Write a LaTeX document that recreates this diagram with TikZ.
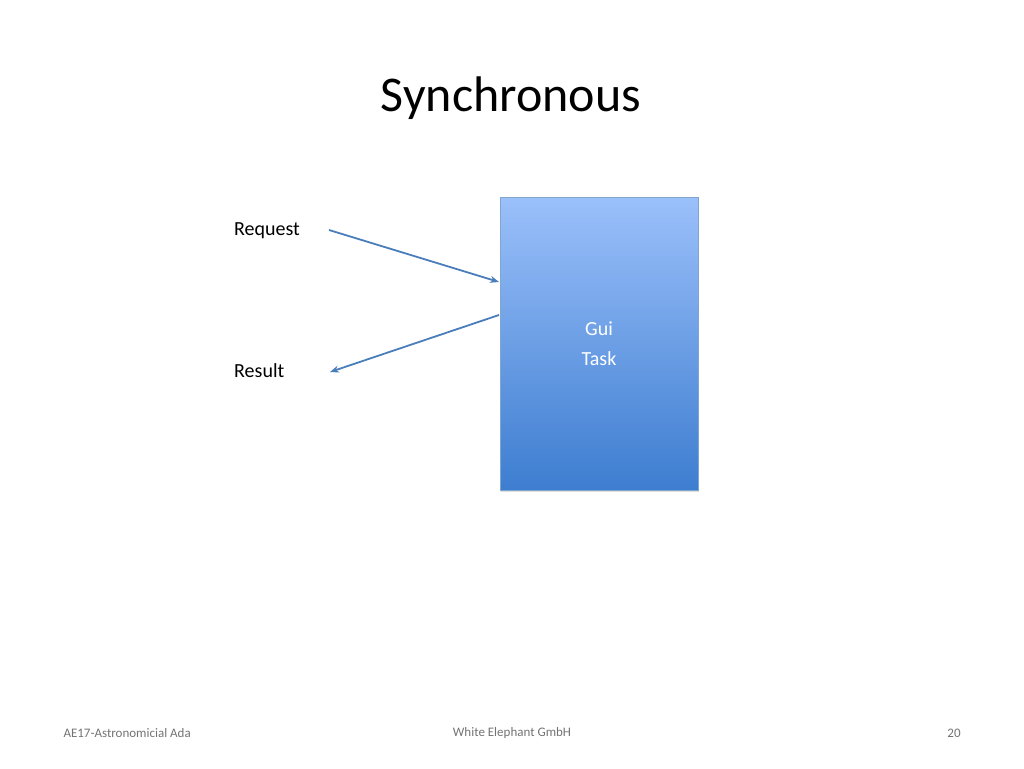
\documentclass[tikz,border=0pt]{standalone}
\usepackage{fontspec}
\setmainfont{Carlito}
\usetikzlibrary{arrows.meta,shadows}
\definecolor{arr}{HTML}{4A7EBB}
\definecolor{topc}{HTML}{9BC0FA}
\definecolor{botc}{HTML}{3D7DD0}
\tikzset{conn/.style={draw=arr,line width=1.8pt,-{Stealth[length=9pt,width=7pt]}},
lbl/.style={font=\fontsize{20}{24}\selectfont,anchor=west,inner sep=0},
foot/.style={font=\fontsize{13}{15}\selectfont,text=gray!90!black}}
\begin{document}
\begin{tikzpicture}[x=1pt,y=-1pt]
\useasboundingbox (0,0) rectangle (1024,768);
\node (title) at (511,98) {\fontsize{50}{60}\selectfont Synchronous};
\node[draw=arr!70,top color=topc,bottom color=botc,minimum width=198pt,minimum height=293pt,inner sep=0,anchor=north west,drop shadow={opacity=0.25,shadow xshift=1pt,shadow yshift=-2pt}] (task) at (500,197) {};
\node[text=white,align=center,font=\fontsize{20}{30}\selectfont] (tl) at (599,344) {Gui\\Task};
\node[lbl] (req) at (234,231) {Request};
\node[lbl] (res) at (234,371) {Result};
\coordinate (a1) at (329,230);
\coordinate (a2) at (499,282);
\coordinate (b1) at (499,315);
\coordinate (b2) at (330,372);
\draw[conn] (a1) -- (a2);
\draw[conn] (b1) -- (b2);
\node[foot,anchor=west] (f1) at (60,733) {AE17-Astronomicial Ada};
\node[foot] (f2) at (512,733) {White Elephant GmbH};
\node[foot] (f3) at (954,733) {20};
\end{tikzpicture}
\end{document}
